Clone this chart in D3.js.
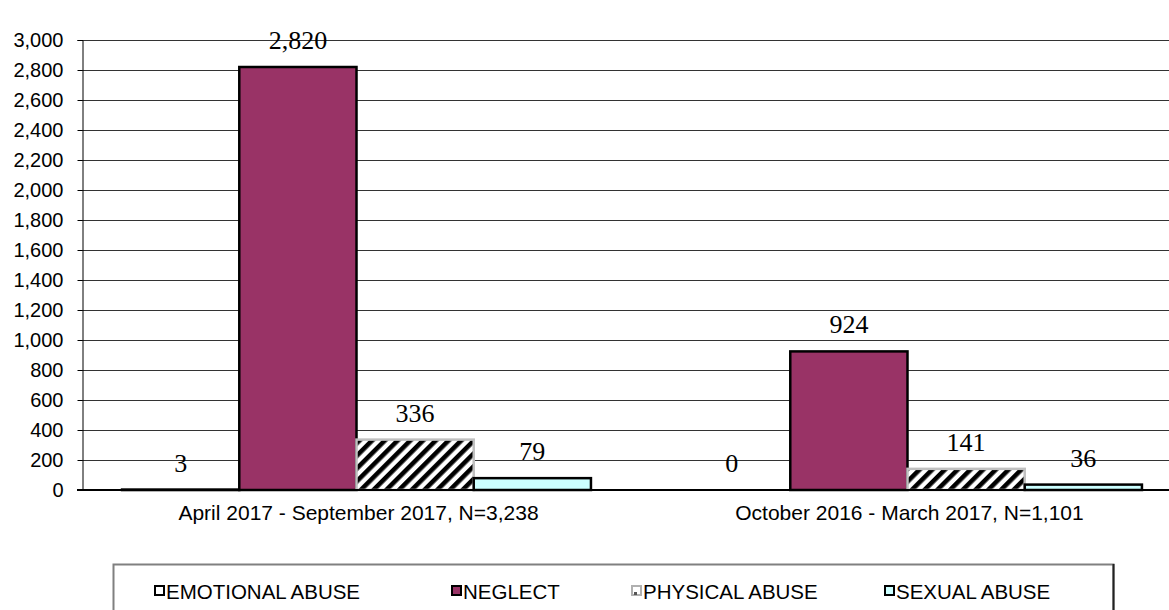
<!DOCTYPE html>
<html>
<head>
<meta charset="utf-8">
<script src="https://cdn.jsdelivr.net/npm/d3@7"></script>
<style>
  html, body { margin: 0; padding: 0; background: #fff; }
  svg { display: block; }
</style>
</head>
<body>
<svg id="chart" width="1169" height="610"></svg>
<script>
const categories = ["April 2017 - September 2017, N=3,238", "October 2016 - March 2017, N=1,101"];
const seriesNames = ["EMOTIONAL ABUSE", "NEGLECT", "PHYSICAL ABUSE", "SEXUAL ABUSE"];
const emotional = [3, 0];
const neglect = [2820, 924];
const physical = [336, 141];
const sexual = [79, 36];
const yTicks = [0, 200, 400, 600, 800, 1000, 1200, 1400, 1600, 1800, 2000, 2200, 2400, 2600, 2800, 3000];

const seriesValues = [emotional, neglect, physical, sexual];
const svg = d3.select("#chart");
const W = 1169, H = 610;
const mLeft = 82, mRight = 1182, mTop = 40, mBottom = 490;

const defs = svg.append("defs");
const pat = defs.append("pattern")
  .attr("id", "hatch").attr("patternUnits", "userSpaceOnUse")
  .attr("width", 9).attr("height", 9)
  .attr("patternTransform", "rotate(45)");
pat.append("rect").attr("width", 9).attr("height", 9).attr("fill", "#fff");
pat.append("rect").attr("x", 0).attr("width", 4.6).attr("height", 9).attr("fill", "#000");

const fills = ["#ffffff", "#993366", "url(#hatch)", "#ccffff"];
const strokes = ["#000", "#000", "#c0c0c0", "#000"];

const y = d3.scaleLinear().domain([0, 3000]).range([mBottom, mTop]);
const x0 = d3.scaleBand().domain(categories).range([mLeft, mRight]).paddingInner(0.149).paddingOuter(0.0727);
const x1 = d3.scaleBand().domain(seriesNames).range([0, x0.bandwidth()]);

// gridlines
svg.append("g").selectAll("line").data(yTicks.filter(d => d > 0)).join("line")
  .attr("x1", mLeft).attr("x2", W)
  .attr("y1", d => Math.round(y(d)) + 0.5).attr("y2", d => Math.round(y(d)) + 0.5)
  .attr("stroke", "#333").attr("stroke-width", 1);

// y axis
const yAxis = d3.axisLeft(y).tickValues(yTicks).tickSize(5).tickPadding(14).tickFormat(d3.format(","));
const gy = svg.append("g").attr("transform", `translate(${mLeft + 0.5},0)`).call(yAxis);
gy.select(".domain").attr("stroke", "#000");
gy.selectAll(".tick line").attr("stroke", "#000");
gy.selectAll(".tick text").attr("font-family", "'Liberation Sans', Arial, sans-serif").attr("font-size", 20).attr("fill", "#000");

// bars
const groups = svg.append("g").selectAll("g").data(categories).join("g")
  .attr("transform", d => `translate(${x0(d)},0)`);

groups.each(function(cat, ci) {
  const g = d3.select(this);
  seriesNames.forEach((s, si) => {
    const v = seriesValues[si][ci];
    if (v > 0) {
      g.append("rect")
        .attr("x", x1(s)).attr("y", y(v))
        .attr("width", x1.bandwidth()).attr("height", Math.max(0.5, y(0) - y(v)))
        .attr("fill", fills[si]).attr("stroke", strokes[si]).attr("stroke-width", 2.5);
    }
    g.append("text")
      .attr("x", x1(s) + x1.bandwidth() / 2).attr("y", y(v) - 18)
      .attr("text-anchor", "middle")
      .attr("font-family", "'Liberation Serif', 'Times New Roman', serif")
      .attr("font-size", 26).attr("fill", "#000")
      .text(d3.format(",")(v));
  });
});

// baseline
svg.append("line").attr("x1", mLeft - 5).attr("x2", W).attr("y1", mBottom).attr("y2", mBottom)
  .attr("stroke", "#000").attr("stroke-width", 2);

// x labels
svg.append("g").selectAll("text").data(categories).join("text")
  .attr("x", d => x0(d) + x0.bandwidth() / 2 + 2).attr("y", 520)
  .attr("text-anchor", "middle")
  .attr("font-family", "'Liberation Sans', Arial, sans-serif").attr("font-size", 21).attr("fill", "#000")
  .text(d => d);

// legend
const lg = svg.append("g");
lg.append("rect").attr("x", 113.5).attr("y", 564.5).attr("width", 1000).attr("height", 60)
  .attr("fill", "#fff").attr("stroke", "#808080").attr("stroke-width", 2);
lg.append("line").attr("x1", 1113.5).attr("x2", 1113.5).attr("y1", 564).attr("y2", 610)
  .attr("stroke", "#222").attr("stroke-width", 2);
const legendX = [155, 452, 632, 885];
const legendScale = d3.scaleOrdinal().domain(seriesNames).range(legendX);
const items = lg.selectAll("g.item").data(seriesNames).join("g").attr("class", "item")
  .attr("transform", d => `translate(${legendScale(d)},592)`);
items.append("rect").attr("x", 0).attr("y", -6).attr("width", 9).attr("height", 9)
  .attr("fill", (d, i) => i === 2 ? "#fff" : fills[i])
  .attr("stroke", (d, i) => i === 2 ? "#b0b0b0" : "#000").attr("stroke-width", 2);
items.filter((d, i) => i === 2).append("rect").attr("x", 2).attr("y", 0).attr("width", 3).attr("height", 3).attr("fill", "#555");
items.append("text").attr("x", 11).attr("y", 7)
  .attr("font-family", "'Liberation Sans', Arial, sans-serif").attr("font-size", 20.5).attr("fill", "#000")
  .text(d => d);
</script>
</body>
</html>
